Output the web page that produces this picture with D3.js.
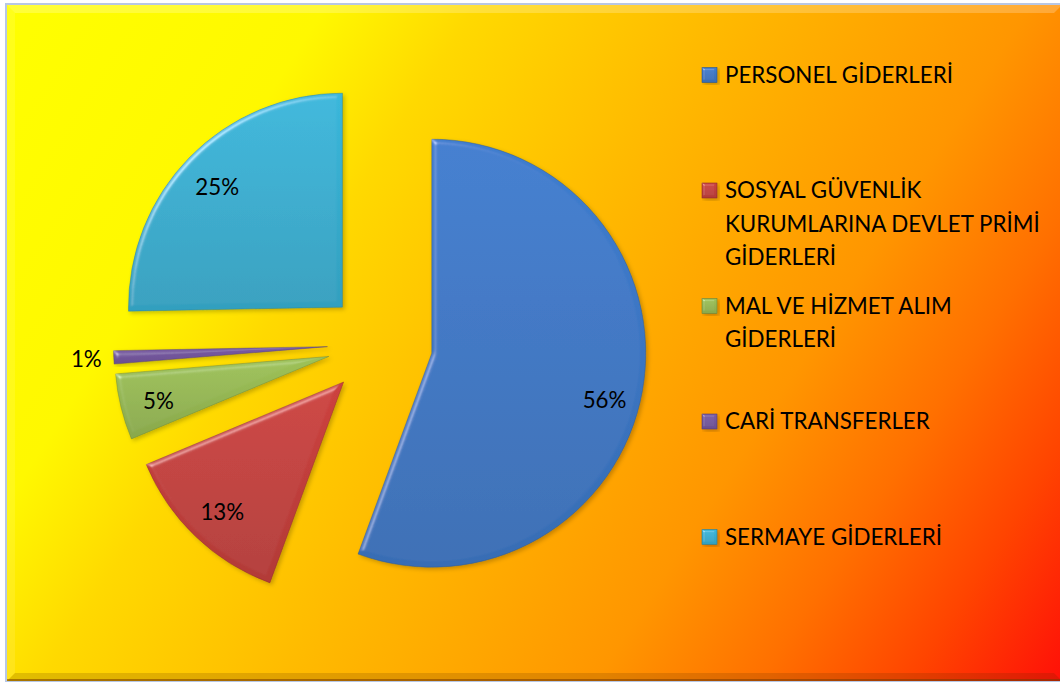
<!DOCTYPE html>
<html>
<head>
<meta charset="utf-8">
<script src="https://cdn.jsdelivr.net/npm/d3@7"></script>
<style>
html, body { margin: 0; padding: 0; background: #fff; overflow: hidden; }
svg { display: block; }
</style>
</head>
<body>
<svg id="chart"></svg>
<script>
// chart data
const categories = ["PERSONEL GİDERLERİ", "SOSYAL GÜVENLİK KURUMLARINA DEVLET PRİMİ GİDERLERİ",
    "MAL VE HİZMET ALIM GİDERLERİ", "CARİ TRANSFERLER", "SERMAYE GİDERLERİ"];
const values = [55.6, 13.1, 5.0, 1.0, 25.3];
const legendLines = [
    ["PERSONEL GİDERLERİ"],
    ["SOSYAL GÜVENLİK", "KURUMLARINA DEVLET PRİMİ", "GİDERLERİ"],
    ["MAL VE HİZMET ALIM", "GİDERLERİ"],
    ["CARİ TRANSFERLER"],
    ["SERMAYE GİDERLERİ"]
];
const colors = ["#3d79c8", "#c6403d", "#98bb55", "#7658a0", "#38b1d3"];

const width = 1060;
const height = 682;
const fontFamily = "Lato, 'Open Sans', sans-serif";

const svg = d3.select('#chart').attr('width', width).attr('height', height);
const defs = svg.append('defs');

// background gradient, corner to corner
const bgGrad = defs.append('linearGradient').attr('id', 'bgGrad')
    .attr('gradientUnits', 'userSpaceOnUse')
    .attr('x1', 0).attr('y1', 0).attr('x2', width).attr('y2', height);
[[0, '#ffff00'], [0.22, '#fff800'], [0.32, '#ffd900'], [0.48, '#ffbb00'],
 [0.69, '#ff9600'], [0.8, '#ff7000'], [0.9, '#ff4400'], [1, '#ff1008']].forEach(function (s) {
    bgGrad.append('stop').attr('offset', s[0]).attr('stop-color', s[1]);
});

// bevel filter for slices and legend keys
function makeBevel(id, blur, scale, amount) {
    const f = defs.append('filter').attr('id', id)
        .attr('x', '-10%').attr('y', '-10%').attr('width', '125%').attr('height', '125%');
    f.append('feGaussianBlur').attr('in', 'SourceAlpha').attr('stdDeviation', blur).attr('result', 'blur');
    const spec = f.append('feSpecularLighting').attr('in', 'blur')
        .attr('surfaceScale', scale).attr('specularConstant', 0.9)
        .attr('specularExponent', 22).attr('lighting-color', '#ffffff').attr('result', 'spec');
    spec.append('feDistantLight').attr('azimuth', 225).attr('elevation', 28);
    f.append('feComposite').attr('in', 'spec').attr('in2', 'SourceAlpha').attr('operator', 'in').attr('result', 'specIn');
    f.append('feComposite').attr('in', 'SourceGraphic').attr('in2', 'specIn')
        .attr('operator', 'arithmetic').attr('k1', 0).attr('k2', 1).attr('k3', amount).attr('k4', 0).attr('result', 'lit');
    f.append('feGaussianBlur').attr('in', 'SourceAlpha').attr('stdDeviation', 2).attr('result', 'sblur');
    f.append('feOffset').attr('in', 'sblur').attr('dx', 2).attr('dy', 2).attr('result', 'soff');
    f.append('feFlood').attr('flood-color', '#000').attr('flood-opacity', 0.22).attr('result', 'sfl');
    f.append('feComposite').attr('in', 'sfl').attr('in2', 'soff').attr('operator', 'in').attr('result', 'shadow');
    const m = f.append('feMerge');
    m.append('feMergeNode').attr('in', 'shadow');
    m.append('feMergeNode').attr('in', 'lit');
}
makeBevel('bevel', 2.5, 4, 0.4);
makeBevel('bevelSmall', 1.2, 3, 0.5);

// per slice vertical gradient
colors.forEach(function (c, i) {
    const g = defs.append('linearGradient').attr('id', 'sl' + i)
        .attr('x1', 0).attr('y1', 0).attr('x2', 0).attr('y2', 1);
    g.append('stop').attr('offset', 0).attr('stop-color', d3.color(c).brighter(0.1));
    g.append('stop').attr('offset', 1).attr('stop-color', d3.color(c).darker(0.3));
});

// frame
svg.append('rect').attr('x', 5).attr('y', 3).attr('width', width).attr('height', height)
    .attr('fill', '#b7c7e5');
svg.append('rect').attr('x', 7).attr('y', 5).attr('width', width).attr('height', height - 6)
    .attr('fill', 'url(#bgGrad)');
// chart area bevel bands
const bx0 = 7, by0 = 5, bx1 = width + 2, by1 = height - 1, bw = 8;
svg.append('polygon')
    .attr('points', [[bx0, by0], [bx1, by0], [bx1 - bw, by0 + bw], [bx0 + bw, by0 + bw]].join(' '))
    .attr('fill', '#fff').attr('opacity', 0.22);
svg.append('polygon')
    .attr('points', [[bx0, by0], [bx0 + bw, by0 + bw], [bx0 + bw, by1 - bw], [bx0, by1]].join(' '))
    .attr('fill', '#fff').attr('opacity', 0.1);
svg.append('polygon')
    .attr('points', [[bx0, by1], [bx0 + bw, by1 - bw], [bx1 - bw, by1 - bw], [bx1, by1]].join(' '))
    .attr('fill', '#5a2a00').attr('opacity', 0.18);
svg.append('line').attr('x1', bx0).attr('x2', bx1).attr('y1', by1 - 1).attr('y2', by1 - 1)
    .attr('stroke', '#7a3a00').attr('stroke-opacity', 0.55).attr('stroke-width', 2);

// size the font so the legend text has the reference width
const probe = svg.append('text').attr('font-family', fontFamily).attr('font-size', 26).text(legendLines[0][0]);
const fontSize = 26 * 228 / probe.node().getComputedTextLength();
probe.remove();

// pie
const cx = 380, cy = 344, radius = 214, explode = 52.6;
const total = d3.sum(values);
const pie = d3.pie().sort(null).value(function (d) { return d });
const arcs = pie(values);
const arc = d3.arc().innerRadius(0).outerRadius(radius);

const pieGroup = svg.append('g').attr('transform', 'translate(' + cx + ',' + cy + ')');

function offsetOf(a, dist) {
    const mid = (a.startAngle + a.endAngle) / 2;
    return [Math.sin(mid) * dist, -Math.cos(mid) * dist];
}

const slices = pieGroup.selectAll('g.slice')
    .data(arcs)
    .enter().append('g')
    .attr('class', 'slice')
    .attr('transform', function (a) { return 'translate(' + offsetOf(a, explode) + ')' });

slices.append('path')
    .attr('d', arc)
    .attr('fill', function (a, i) { return 'url(#sl' + i + ')' })
    .attr('stroke', function (a, i) { return d3.color(colors[i]).darker(1) })
    .attr('stroke-opacity', 0.55)
    .attr('stroke-width', 0.8)
    .attr('filter', 'url(#bevel)');

// data labels; the big slice label sits a bit lower, like the original
slices.append('text')
    .attr('font-family', fontFamily)
    .attr('font-size', fontSize)
    .attr('fill', '#000')
    .attr('dy', '0.35em')
    .attr('text-anchor', function (a) { return a.value / total < 0.02 ? 'end' : 'middle' })
    .attr('x', function (a) {
        return a.value / total < 0.02 ? offsetOf(a, radius + 12)[0] : offsetOf(a, radius * 0.82)[0];
    })
    .attr('y', function (a) {
        if (a.value / total < 0.02) return offsetOf(a, radius + 12)[1] + 1;
        return offsetOf(a, radius * 0.82)[1] + (a.value / total > 0.5 ? 16 : 3);
    })
    .text(function (a) { return Math.round(a.value / total * 100) + '%' });

// legend
const legendY = d3.scalePoint().domain(categories).range([75, 537]);
const legend = svg.append('g').selectAll('g')
    .data(categories)
    .enter().append('g')
    .attr('transform', function (d) { return 'translate(702,' + legendY(d) + ')' });

legend.append('rect')
    .attr('x', 0).attr('y', -7.5).attr('width', 15).attr('height', 15)
    .attr('fill', function (d, i) { return 'url(#sl' + i + ')' })
    .attr('stroke', function (d, i) { return d3.color(colors[i]).darker(1) })
    .attr('stroke-width', 0.6)
    .attr('filter', 'url(#bevelSmall)');

legend.append('text')
    .attr('font-family', fontFamily)
    .attr('font-size', fontSize)
    .attr('fill', '#000')
    .selectAll('tspan')
    .data(function (d, i) { return legendLines[i] })
    .enter().append('tspan')
    .attr('x', 23)
    .attr('y', function (t, j) { return 7.5 + j * 33.5 })
    .text(function (t) { return t });
</script>
</body>
</html>
